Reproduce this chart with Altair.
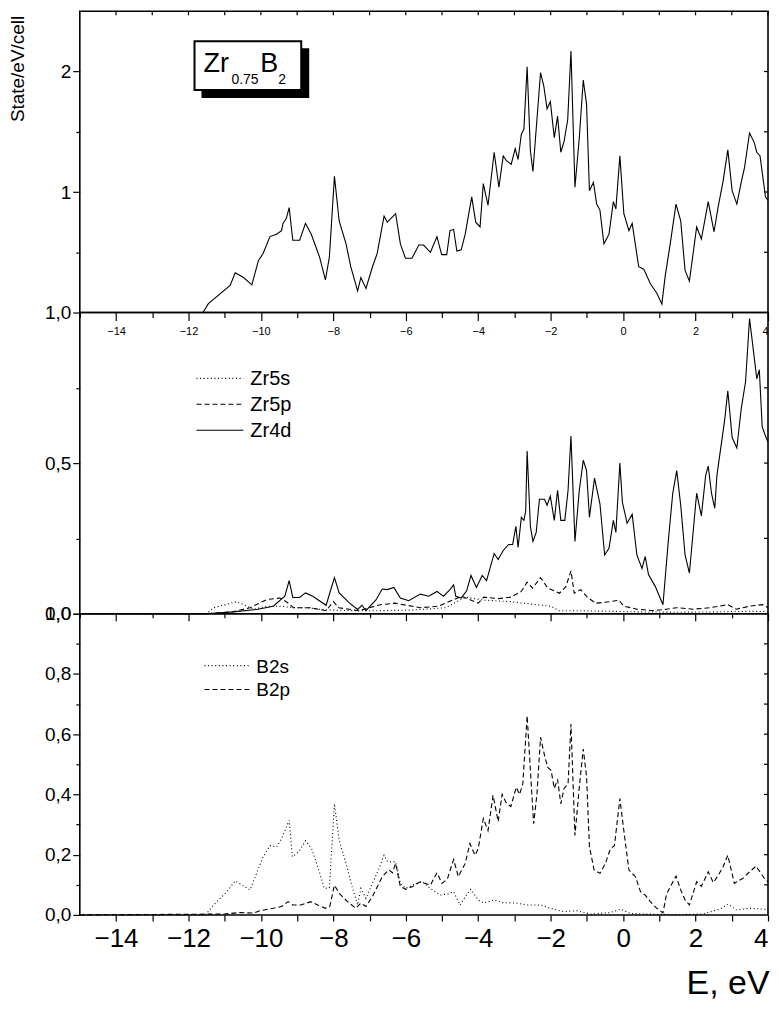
import altair as alt
import pandas as pd

# ---------------- data ----------------
TOTAL_E = [-15, -11.6, -11.45, -10.85, -10.71, -10.48, -10.25, -10.07, -9.94, -9.75,
           -9.57, -9.43, -9.39, -9.30, -9.22, -9.12, -8.93, -8.77, -8.61, -8.38,
           -8.22, -8.11, -7.97, -7.84, -7.65, -7.52, -7.33, -7.24, -7.10, -6.92,
           -6.79, -6.60, -6.51, -6.28, -6.15, -6.01, -5.83, -5.64, -5.51, -5.32,
           -5.14, -5.01, -4.87, -4.78, -4.68, -4.59, -4.47, -4.36, -4.18, -4.07,
           -3.95, -3.86, -3.73, -3.56, -3.43, -3.31, -3.22, -3.09, -2.98, -2.90,
           -2.81, -2.74, -2.65, -2.56, -2.49, -2.28, -2.19, -2.10, -2.01, -1.90,
           -1.81, -1.72, -1.63, -1.53, -1.44, -1.33, -1.21, -1.10, -1.01, -0.93,
           -0.82, -0.73, -0.64, -0.53, -0.39, -0.27, -0.20, -0.09, 0.02, 0.16,
           0.25, 0.43, 0.57, 0.75, 0.93, 1.07, 1.16, 1.30, 1.46, 1.59,
           1.71, 1.83, 2.03, 2.16, 2.35, 2.51, 2.62, 2.76, 2.89, 3.01,
           3.14, 3.26, 3.35, 3.49, 3.62, 3.69, 3.78, 3.93, 4.0]
TOTAL_V = [0, 0, 0.074, 0.225, 0.33, 0.29, 0.23, 0.43, 0.49, 0.63,
           0.65, 0.68, 0.74, 0.78, 0.87, 0.60, 0.60, 0.74, 0.65, 0.46,
           0.27, 0.46, 1.13, 0.76, 0.57, 0.38, 0.18, 0.29, 0.20, 0.38,
           0.49, 0.80, 0.75, 0.82, 0.57, 0.45, 0.45, 0.56, 0.56, 0.50,
           0.63, 0.48, 0.48, 0.68, 0.69, 0.51, 0.52, 0.65, 0.96, 0.75,
           0.71, 1.07, 0.89, 1.33, 1.04, 1.30, 1.26, 1.23, 1.36, 1.27,
           1.48, 1.52, 2.04, 1.34, 1.17, 1.99, 1.88, 1.69, 1.75, 1.45,
           1.63, 1.33, 1.42, 1.60, 2.17, 1.04, 1.45, 1.93, 1.73, 1.01,
           1.08, 0.90, 0.85, 0.57, 0.65, 0.92, 0.86, 1.30, 0.82, 0.68,
           0.74, 0.38, 0.36, 0.24, 0.16, 0.07, 0.30, 0.57, 0.90, 0.76,
           0.35, 0.26, 0.71, 0.61, 0.92, 0.67, 0.87, 1.09, 1.35, 1.01,
           0.90, 1.08, 1.20, 1.49, 1.41, 1.33, 1.30, 0.96, 0.93]

ZR4D_E = [-15, -11.5, -10.76, -10.12, -9.66, -9.34, -9.22, -9.12, -8.93, -8.77,
          -8.57, -8.20, -7.97, -7.84, -7.56, -7.33, -7.21, -7.10, -6.83, -6.65,
          -6.51, -6.33, -6.15, -5.92, -5.60, -5.37, -5.14, -4.96, -4.78, -4.68,
          -4.62, -4.47, -4.32, -4.20, -4.05, -3.89, -3.77, -3.56, -3.45, -3.31,
          -3.16, -3.05, -2.96, -2.90, -2.81, -2.74, -2.69, -2.65, -2.56, -2.49,
          -2.40, -2.31, -2.17, -2.10, -2.01, -1.90, -1.81, -1.72, -1.61, -1.52,
          -1.44, -1.33, -1.21, -1.10, -1.01, -0.93, -0.79, -0.64, -0.51, -0.39,
          -0.27, -0.20, -0.09, -0.02, 0.11, 0.25, 0.38, 0.52, 0.61, 0.70,
          0.89, 1.10, 1.25, 1.37, 1.48, 1.59, 1.71, 1.83, 2.03, 2.16,
          2.28, 2.35, 2.44, 2.53, 2.59, 2.80, 2.89, 3.01, 3.14, 3.26,
          3.38, 3.49, 3.60, 3.69, 3.76, 3.84, 3.93, 4.0]
ZR4D_V = [0, 0, 0.006, 0.014, 0.025, 0.058, 0.11, 0.054, 0.054, 0.069,
          0.058, 0.028, 0.12, 0.069, 0.036, 0.014, 0.028, 0.010, 0.045, 0.082,
          0.08, 0.087, 0.052, 0.043, 0.065, 0.058, 0.074, 0.058, 0.080, 0.096,
          0.058, 0.052, 0.076, 0.127, 0.087, 0.127, 0.11, 0.20, 0.18, 0.21,
          0.23, 0.23, 0.29, 0.22, 0.32, 0.31, 0.34, 0.54, 0.29, 0.24,
          0.27, 0.38, 0.38, 0.36, 0.39, 0.31, 0.41, 0.31, 0.31, 0.41,
          0.59, 0.24, 0.41, 0.51, 0.475, 0.32, 0.45, 0.365, 0.195, 0.217,
          0.31, 0.27, 0.50, 0.37, 0.30, 0.33, 0.195, 0.15, 0.19, 0.13,
          0.09, 0.03, 0.245, 0.40, 0.475, 0.36, 0.195, 0.135, 0.40, 0.325,
          0.46, 0.49, 0.40, 0.35, 0.46, 0.64, 0.74, 0.585, 0.55, 0.68,
          0.77, 0.98, 0.87, 0.78, 0.81, 0.62, 0.59, 0.57]

ZR5P_E = [-15, -11.5, -10.8, -10.3, -9.84, -9.48, -9.30, -9.10, -8.65, -8.20,
          -8.00, -7.85, -7.30, -6.70, -6.30, -5.60, -5.10, -4.46, -4.00, -3.85,
          -3.45, -3.10, -2.81, -2.65, -2.50, -2.28, -2.08, -1.76, -1.58, -1.44,
          -1.35, -1.17, -0.99, -0.76, -0.35, -0.12, 0.02, 0.38, 0.84, 1.20,
          1.48, 1.94, 2.40, 2.89, 3.12, 3.49, 3.85, 4.0]
ZR5P_V = [0, 0, 0.006, 0.02, 0.047, 0.052, 0.04, 0.02, 0.02, 0.01,
          0.04, 0.02, 0.01, 0.03, 0.035, 0.02, 0.025, 0.058, 0.035, 0.055,
          0.05, 0.055, 0.074, 0.105, 0.085, 0.12, 0.085, 0.068, 0.09, 0.142,
          0.068, 0.08, 0.055, 0.035, 0.04, 0.045, 0.025, 0.015, 0.01, 0.015,
          0.02, 0.015, 0.02, 0.03, 0.015, 0.025, 0.03, 0.02]

ZR5S_E = [-15, -11.5, -11.3, -10.67, -10.2, -9.84, -9.48, -9.1, -8.74, -8.38,
          -8.0, -7.45, -6.74, -5.8, -4.9, -4.35, -3.85, -3.1, -2.4, -2.0,
          -1.76, -1.26, -0.35, 0.5, 1.5, 2.5, 3.5, 4.0]
ZR5S_V = [0, 0, 0.02, 0.04, 0.015, 0.025, 0.025, 0.02, 0.02, 0.015,
          0.012, 0.01, 0.01, 0.012, 0.02, 0.055, 0.045, 0.04, 0.03, 0.025,
          0.01, 0.01, 0.008, 0.006, 0.005, 0.006, 0.008, 0.007]

B2S_E = [-15, -11.53, -11.31, -10.94, -10.71, -10.48, -10.30, -10.12, -9.94, -9.75,
         -9.57, -9.43, -9.22, -9.13, -8.95, -8.77, -8.60, -8.43, -8.25, -8.11,
         -7.97, -7.84, -7.65, -7.47, -7.33, -7.24, -7.10, -6.92, -6.74, -6.60,
         -6.50, -6.28, -6.15, -6.00, -5.80, -5.55, -5.32, -5.05, -4.82, -4.68,
         -4.50, -4.36, -4.21, -4.00, -3.84, -3.56, -3.34, -2.92, -2.65, -2.28,
         -2.01, -1.65, -1.28, -0.90, -0.35, -0.07, 0.20, 0.56, 1.48, 2.21,
         2.67, 2.89, 3.12, 3.49, 3.90, 4.0]
B2S_V = [0, 0, 0.033, 0.077, 0.113, 0.096, 0.083, 0.138, 0.193, 0.23,
         0.225, 0.253, 0.314, 0.193, 0.21, 0.246, 0.22, 0.16, 0.088, 0.09,
         0.369, 0.248, 0.171, 0.088, 0.033, 0.088, 0.055, 0.105, 0.154, 0.198,
         0.176, 0.176, 0.105, 0.088, 0.10, 0.11, 0.088, 0.066, 0.07, 0.077,
         0.033, 0.06, 0.085, 0.05, 0.039, 0.05, 0.041, 0.039, 0.033, 0.033,
         0.022, 0.011, 0.014, 0.003, 0.008, 0.019, 0.005, 0.003, 0.001, 0.003,
         0.019, 0.036, 0.017, 0.022, 0.019, 0.015]

B2P_E = [-15, -11.0, -10.57, -10.2, -10.03, -9.66, -9.43, -9.25, -9.12, -8.90,
         -8.62, -8.43, -8.22, -8.10, -7.97, -7.84, -7.61, -7.38, -7.24, -7.10,
         -6.92, -6.65, -6.47, -6.37, -6.28, -6.15, -6.00, -5.80, -5.60, -5.32,
         -5.14, -5.00, -4.85, -4.68, -4.55, -4.36, -4.23, -4.09, -4.00, -3.86,
         -3.73, -3.59, -3.45, -3.34, -3.22, -3.10, -2.95, -2.86, -2.77, -2.65,
         -2.56, -2.47, -2.38, -2.28, -2.17, -2.08, -1.99, -1.90, -1.81, -1.72,
         -1.63, -1.52, -1.44, -1.33, -1.21, -1.10, -1.01, -0.93, -0.80, -0.64,
         -0.49, -0.35, -0.24, -0.09, 0.02, 0.16, 0.34, 0.48, 0.61, 0.75,
         0.93, 1.10, 1.20, 1.46, 1.59, 1.71, 1.83, 2.03, 2.16, 2.35,
         2.49, 2.62, 2.76, 2.89, 3.07, 3.30, 3.49, 3.67, 3.90, 4.0]
B2P_V = [0, 0.003, 0.008, 0.006, 0.014, 0.022, 0.028, 0.044, 0.033, 0.033,
         0.044, 0.033, 0.022, 0.028, 0.099, 0.072, 0.044, 0.022, 0.039, 0.028,
         0.061, 0.127, 0.15, 0.14, 0.171, 0.094, 0.085, 0.095, 0.11, 0.099,
         0.14, 0.105, 0.12, 0.184, 0.127, 0.171, 0.237, 0.198, 0.22, 0.32,
         0.28, 0.397, 0.31, 0.40, 0.37, 0.36, 0.424, 0.40, 0.435, 0.661,
         0.48, 0.303, 0.40, 0.59, 0.53, 0.49, 0.48, 0.42, 0.45, 0.369,
         0.42, 0.435, 0.634, 0.264, 0.424, 0.551, 0.46, 0.226, 0.149, 0.138,
         0.171, 0.22, 0.23, 0.386, 0.28, 0.149, 0.127, 0.077, 0.066, 0.044,
         0.022, 0.007, 0.07, 0.129, 0.083, 0.05, 0.033, 0.11, 0.095, 0.143,
         0.107, 0.13, 0.16, 0.198, 0.105, 0.121, 0.143, 0.162, 0.121, 0.11]

# tick positions
X_MAJOR = [-14, -12, -10, -8, -6, -4, -2, 0, 2, 4]
X_MINOR = [-15, -13, -11, -9, -7, -5, -3, -1, 1, 3]
X_ALL = list(range(-14, 5))
TOP_Y_MAJOR = [1, 2]
TOP_Y_MINOR = [0.5, 1.5]
TOP_Y_RIGHT = [0.5, 1, 1.5, 2]
MID_Y_MAJOR = [0, 0.5, 1.0]
MID_Y_MINOR = [0.25, 0.75]
MID_Y_RIGHT = [0.25, 0.5, 0.75]
BOT_Y_MAJOR = [0, 0.2, 0.4, 0.6, 0.8, 1.0]
BOT_Y_MINOR = [0.1, 0.3, 0.5, 0.7, 0.9]
BOT_Y_RIGHT = [0.1, 0.2, 0.3, 0.4, 0.5, 0.6, 0.7, 0.8, 0.9]

MID_LEGEND = ["Zr5s", "Zr5p", "Zr4d"]
BOT_LEGEND = ["B2s", "B2p"]

# ---------------- style ----------------
FONT = "Liberation Sans"
W = 690
H_TOP, H_MID, H_BOT = 302, 302, 302
DOT = [1, 2.6]
DASH = [5, 3]
LW = 1.1
IN_TICK = 4

XS = alt.Scale(domain=[-15, 4], nice=False, zero=False)


def frame(e, v):
    return pd.DataFrame({"E": e, "v": v})


def line(df, ys, dash=None):
    kw = dict(color="black", strokeWidth=LW)
    if dash:
        kw["strokeDash"] = dash
    return alt.Chart(df).mark_line(**kw).encode(
        x=alt.X("E:Q", scale=XS, axis=None),
        y=alt.Y("v:Q", scale=ys, axis=None),
    )


def base_axis(flush, **kw):
    d = dict(grid=False, domain=False, tickColor="black", tickWidth=1.2,
             labelColor="black", labelFont=FONT, labelOverlap=False,
             labelFlush=flush, titleColor="black", titleFont=FONT,
             titleFontWeight="normal", minExtent=0)
    d.update(kw)
    return alt.Axis(**d)


def x_axis(df, ys, **kw):
    return alt.Chart(df).mark_line(opacity=0).encode(
        x=alt.X("E:Q", scale=XS, axis=base_axis(True, **kw)),
        y=alt.Y("v:Q", scale=ys, axis=None),
    )


def y_axis(df, ys, **kw):
    return alt.Chart(df).mark_line(opacity=0).encode(
        x=alt.X("E:Q", scale=XS, axis=None),
        y=alt.Y("v:Q", scale=ys, axis=base_axis(False, **kw)),
    )


def top_inner_ticks(values):
    return alt.Chart(pd.DataFrame({"E": values})).mark_rule(
        color="black", strokeWidth=1.2).encode(
        x=alt.X("E:Q", scale=XS, axis=None),
        y=alt.value(0), y2=alt.value(IN_TICK))


def right_inner_ticks(values, ys):
    return alt.Chart(pd.DataFrame({"v": values})).mark_rule(
        color="black", strokeWidth=1.2).encode(
        y=alt.Y("v:Q", scale=ys, axis=None),
        x=alt.value(W - IN_TICK), x2=alt.value(W))


one = pd.DataFrame({"a": [0]})
COMMA = "replace(format(datum.value, '.1f'), '.', ',')"

# ---------------- top panel: total DOS ----------------
df_tot = frame(TOTAL_E, TOTAL_V)
ys_top = alt.Scale(domain=[0, 2.5], nice=False, zero=True)

top_layers = [
    line(df_tot, ys_top),
    x_axis(df_tot, ys_top, orient="bottom", values=X_MAJOR, tickSize=8,
           labelFontSize=11, labelPadding=5, title=None, format="d"),
    x_axis(df_tot, ys_top, orient="bottom", values=X_MINOR, tickSize=5,
           labels=False, title=None),
    top_inner_ticks(X_ALL),
    y_axis(df_tot, ys_top, orient="left", values=TOP_Y_MAJOR, tickSize=7,
           labelFontSize=19, labelPadding=2, format="d",
           title="State/eV/cell", titleFontSize=19, titleAngle=270,
           titleAlign="right", titleBaseline="bottom", titleX=-52, titleY=4),
    y_axis(df_tot, ys_top, orient="left", values=TOP_Y_MINOR, tickSize=4,
           labels=False, title=None),
    right_inner_ticks(TOP_Y_RIGHT, ys_top),
    # compound label box with shadow
    alt.Chart(one).mark_rect(color="black").encode(
        x=alt.value(122), x2=alt.value(230), y=alt.value(37), y2=alt.value(87)),
    alt.Chart(one).mark_rect(fill="white", stroke="black", strokeWidth=2).encode(
        x=alt.value(115), x2=alt.value(222), y=alt.value(30), y2=alt.value(79)),
    alt.Chart(one).mark_text(text="Zr", font=FONT, fontSize=27, align="left",
                             baseline="alphabetic").encode(
        x=alt.value(124), y=alt.value(61)),
    alt.Chart(one).mark_text(text="0.75", font=FONT, fontSize=14, align="left",
                             baseline="alphabetic").encode(
        x=alt.value(152), y=alt.value(73)),
    alt.Chart(one).mark_text(text="B", font=FONT, fontSize=27, align="left",
                             baseline="alphabetic").encode(
        x=alt.value(181), y=alt.value(61)),
    alt.Chart(one).mark_text(text="2", font=FONT, fontSize=14, align="left",
                             baseline="alphabetic").encode(
        x=alt.value(199), y=alt.value(73)),
]
top = alt.layer(*top_layers).resolve_axis(x="independent", y="independent") \
    .properties(width=W, height=H_TOP)

# ---------------- middle panel: Zr partial DOS ----------------
ys_mid = alt.Scale(domain=[0, 1.0], nice=False, zero=True)
df_4d = frame(ZR4D_E, ZR4D_V)
mid_dashes = [DOT, DASH, None]
mid_layers = [
    line(frame(ZR5S_E, ZR5S_V), ys_mid, DOT),
    line(frame(ZR5P_E, ZR5P_V), ys_mid, DASH),
    line(df_4d, ys_mid),
    x_axis(df_4d, ys_mid, orient="bottom", values=X_MAJOR, tickSize=7,
           labels=False, title=None),
    x_axis(df_4d, ys_mid, orient="bottom", values=X_MINOR, tickSize=4,
           labels=False, title=None),
    y_axis(df_4d, ys_mid, orient="left", values=MID_Y_MAJOR, tickSize=7,
           labelFontSize=19, labelPadding=2, labelExpr=COMMA, title=None),
    y_axis(df_4d, ys_mid, orient="left", values=MID_Y_MINOR, tickSize=4,
           labels=False, title=None),
    right_inner_ticks(MID_Y_RIGHT, ys_mid),
]
MID_LEG_Y = [66, 92, 118]
for name, dash, yy in zip(MID_LEGEND, mid_dashes, MID_LEG_Y):
    kw = dict(color="black", strokeWidth=LW)
    if dash:
        kw["strokeDash"] = dash
    mid_layers.append(alt.Chart(one).mark_rule(**kw).encode(
        x=alt.value(117), x2=alt.value(164), y=alt.value(yy)))
    mid_layers.append(alt.Chart(one).mark_text(
        text=name, font=FONT, fontSize=20, align="left", baseline="middle").encode(
        x=alt.value(171), y=alt.value(yy + 1)))
mid = alt.layer(*mid_layers).resolve_axis(x="independent", y="independent") \
    .properties(width=W, height=H_MID)

# ---------------- bottom panel: B partial DOS ----------------
ys_bot = alt.Scale(domain=[0, 1.0], nice=False, zero=True)
df_2p = frame(B2P_E, B2P_V)
bot_dashes = [DOT, DASH]
bot_layers = [
    line(frame(B2S_E, B2S_V), ys_bot, DOT),
    line(df_2p, ys_bot, DASH),
    x_axis(df_2p, ys_bot, orient="bottom", values=X_ALL, tickSize=6,
           labelFontSize=26, labelPadding=5,
           labelExpr="datum.value % 2 == 0 ? format(datum.value, 'd') : ''",
           title="E, eV", titleFontSize=34, titleAlign="right",
           titleBaseline="alphabetic", titleX=W + 1, titleY=79),
    y_axis(df_2p, ys_bot, orient="left", values=BOT_Y_MAJOR,
           tickSize=7, labelFontSize=19, labelPadding=2, labelExpr=COMMA,
           title=None),
    y_axis(df_2p, ys_bot, orient="left", values=BOT_Y_MINOR,
           tickSize=4, labels=False, title=None),
    right_inner_ticks(BOT_Y_RIGHT, ys_bot),
]
BOT_LEG_Y = [52, 76]
for name, dash, yy in zip(BOT_LEGEND, bot_dashes, BOT_LEG_Y):
    bot_layers.append(alt.Chart(one).mark_rule(
        color="black", strokeWidth=LW, strokeDash=dash).encode(
        x=alt.value(125), x2=alt.value(170), y=alt.value(yy)))
    bot_layers.append(alt.Chart(one).mark_text(
        text=name, font=FONT, fontSize=19, align="left", baseline="middle").encode(
        x=alt.value(177), y=alt.value(yy + 1)))
bot = alt.layer(*bot_layers).resolve_axis(x="independent", y="independent") \
    .properties(width=W, height=H_BOT)

chart = alt.vconcat(top, mid, bot, spacing=0, bounds="flush").properties(
    padding={"left": 0, "top": 0, "right": 0, "bottom": 0}
).configure_view(stroke="black", strokeWidth=1.6).configure_text(color="black")

chart.save("out.html", embed_options={"renderer": "svg", "actions": False})
